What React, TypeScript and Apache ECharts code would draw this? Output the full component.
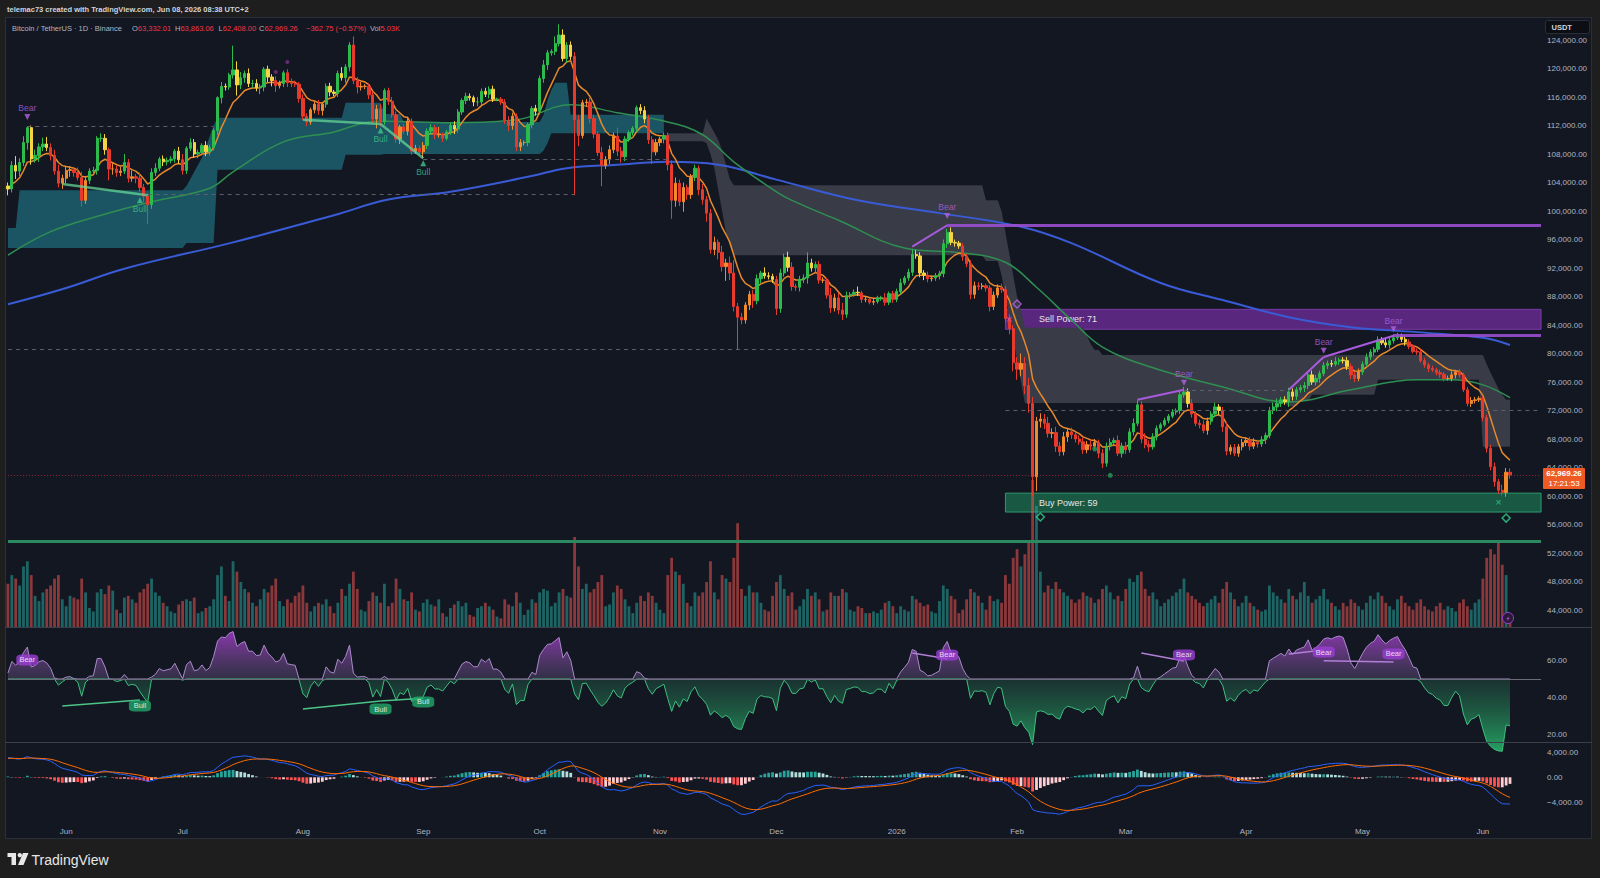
import React, { useEffect, useRef } from "react";
import * as echarts from "echarts";

// ================= DATA (prices in thousands of USDT) =================
const firstOpen = 103.5;

const closesMay25 = [103.1, 106.4, 105.6, 106.8, 109.6, 111.7, 107.3, 107.8, 109.0, 109.4, 108.9, 107.8, 105.6, 103.9, 104.6];
const closesJun25 = [105.7, 105.8, 105.4, 104.7, 101.5, 104.3, 105.6, 105.7, 110.2, 110.2, 108.6, 105.9, 105.9, 105.4, 105.6, 106.8, 104.6, 104.8, 104.6, 103.3, 102.1, 100.9, 105.4, 106.0, 107.3, 106.9, 107.1, 107.3, 108.4, 107.2];
const closesJul25 = [105.7, 108.8, 109.6, 108.0, 108.2, 109.2, 108.3, 108.9, 111.3, 115.9, 117.5, 117.4, 119.1, 119.8, 117.7, 118.7, 119.3, 117.9, 117.9, 117.3, 117.4, 119.9, 118.8, 118.3, 117.6, 117.9, 119.4, 118.0, 117.9, 117.8, 115.8];
const closesAug25 = [113.3, 112.5, 114.2, 115.0, 114.1, 115.0, 117.5, 116.7, 116.5, 119.3, 118.7, 120.2, 123.3, 118.3, 117.4, 117.5, 117.5, 116.3, 112.9, 114.3, 112.5, 116.9, 115.4, 113.5, 110.1, 111.8, 111.2, 112.6, 108.4, 108.8, 108.3];
const closesSep25 = [109.2, 111.2, 111.7, 110.7, 110.7, 110.2, 111.1, 112.0, 111.5, 113.9, 115.5, 116.1, 115.9, 115.3, 115.3, 116.8, 116.4, 117.1, 115.7, 115.7, 115.3, 112.7, 112.0, 113.3, 109.0, 109.6, 109.6, 112.1, 114.4, 114.0];
const closesOct25 = [118.6, 120.5, 122.2, 122.4, 123.5, 124.7, 121.4, 123.3, 121.7, 112.8, 110.6, 115.2, 115.3, 113.0, 110.8, 108.2, 106.4, 107.2, 108.6, 110.5, 108.4, 107.6, 110.1, 111.0, 111.6, 114.5, 114.1, 112.9, 110.0, 108.3, 109.6];
const closesNov25 = [110.1, 110.6, 106.5, 101.5, 103.9, 101.3, 103.3, 102.3, 104.7, 106.0, 103.0, 101.6, 99.7, 94.6, 95.6, 94.2, 92.2, 92.7, 91.3, 86.6, 85.1, 84.7, 86.8, 88.3, 87.4, 90.5, 91.3, 90.9, 90.8, 90.4];
const closesDec25 = [86.3, 91.3, 93.5, 92.1, 89.4, 89.3, 90.4, 90.6, 92.7, 92.0, 92.5, 90.3, 90.3, 88.2, 86.4, 87.8, 86.1, 85.5, 88.1, 88.3, 88.6, 88.5, 87.6, 87.6, 87.2, 87.3, 87.8, 87.8, 87.2, 88.4, 87.6];
const closesJan26 = [88.7, 89.9, 90.6, 91.4, 93.9, 93.7, 91.3, 91.0, 90.5, 90.6, 90.9, 91.2, 95.4, 97.0, 95.6, 95.5, 95.1, 93.6, 92.6, 88.3, 89.5, 89.4, 89.5, 89.2, 86.6, 88.2, 89.2, 89.0, 84.9, 83.5, 78.7];
const closesFeb26 = [77.8, 78.6, 75.5, 73.0, 62.7, 70.5, 70.8, 70.2, 68.8, 68.9, 67.0, 66.2, 68.3, 69.0, 68.6, 68.0, 67.6, 66.5, 67.2, 67.0, 67.5, 66.0, 64.6, 67.0, 67.5, 67.8, 66.0, 67.0];
const closesMar26 = [66.5, 69.0, 70.2, 72.8, 68.0, 67.2, 66.9, 68.3, 69.5, 70.0, 70.6, 71.2, 71.8, 72.0, 74.2, 74.6, 73.0, 71.5, 70.2, 70.0, 69.2, 70.5, 71.5, 72.5, 72.0, 69.7, 66.3, 66.8, 66.0, 66.9, 67.5];
const closesApr26 = [67.8, 67.0, 67.5, 67.3, 67.9, 68.5, 72.0, 72.5, 73.0, 73.5, 73.2, 74.6, 74.0, 74.9, 75.2, 75.5, 77.0, 76.0, 76.5, 77.2, 78.3, 78.6, 78.5, 78.9, 79.1, 79.0, 78.2, 77.0, 76.5, 77.4];
const closesMay26 = [78.5, 79.5, 80.2, 80.6, 81.9, 81.5, 81.2, 81.8, 82.2, 82.5, 82.0, 81.6, 81.0, 80.3, 80.2, 79.0, 78.4, 77.9, 77.7, 77.3, 77.1, 76.5, 76.5, 77.0, 77.4, 77.0, 74.9, 73.0, 73.4, 73.5, 73.7];
const closesJun26 = [71.0, 66.7, 64.1, 62.0, 60.8, 60.5, 63.332, 62.969];

const wickUp = [
  0.5, 0.6, 1.3, 0.6, 0.9, 0.2, 0.3, 0.8, 0.5, 0.9, 1.0, 0.6, 0.8, 0.9, 0.5,
  0.6, 0.5, 0.4, 0.7, 0.8, 0.6, 0.4, 0.5, 0.3, 0.7, 0.6, 0.3, 0.8, 0.5, 0.6, 1.2, 0.5, 0.9, 0.4, 0.8, 0.5, 0.4, 0.6, 0.7, 0.3, 0.5, 0.4, 0.4, 0.3, 0.6,
  0.8, 0.3, 0.6, 0.5, 0.4, 0.3, 0.6, 0.4, 0.3, 0.2, 0.6, 0.4, 0.3, 3.4, 1.2, 0.8, 0.4, 0.7, 0.5, 0.6, 0.4, 0.3, 0.5, 0.4, 0.6, 0.4, 0.3, 0.5, 0.6, 0.4, 0.3,
  0.6, 0.4, 0.3, 0.4, 0.6, 0.3, 0.4, 0.5, 0.3, 0.4, 0.9, 0.4, 0.4, 1.2, 0.5, 0.6, 0.3, 0.4, 0.5, 0.6, 0.7, 0.3, 0.4, 0.6, 0.5, 0.3, 0.4, 0.6, 0.4, 0.5, 0.4,
  0.5, 0.4, 0.5, 0.4, 1.1, 0.3, 0.3, 0.4, 0.6, 0.4, 0.3, 0.5, 0.4, 0.3, 0.7, 0.4, 0.5, 0.4, 0.5, 0.2, 0.3, 0.4, 0.6, 0.5, 0.4, 0.5, 0.3, 0.3, 0.3, 0.5,
  0.4, 0.7, 0.4, 0.3, 1.0, 1.5, 0.8, 0.4, 0.5, 0.6, 0.7, 0.4, 0.4, 0.6, 0.5, 0.4, 0.8, 0.5, 0.6, 0.5, 1.2, 0.6, 0.4, 0.3, 0.3, 0.3, 0.5, 0.6, 0.6, 0.5, 0.5,
  0.3, 0.4, 0.4, 0.6, 0.8, 0.5, 0.7, 0.4, 0.5, 0.5, 0.4, 0.8, 0.5, 0.6, 0.8, 0.4, 0.9, 0.6, 0.9, 1.8, 0.5, 0.6, 0.4, 0.5, 0.6, 0.6, 0.3, 0.8, 0.5, 0.4,
  0.5, 0.6, 0.5, 0.8, 0.7, 0.4, 0.5, 0.5, 1.5, 0.6, 0.4, 0.5, 0.4, 0.3, 1.0, 0.6, 0.7, 1.0, 0.6, 0.3, 0.4, 0.8, 0.3, 0.4, 0.2, 0.5, 0.3, 0.3, 0.7, 0.3, 0.4,
  0.4, 0.6, 0.3, 0.5, 0.7, 0.6, 0.5, 0.4, 0.5, 0.3, 0.4, 0.4, 0.6, 0.5, 0.7, 0.4, 0.3, 0.4, 0.4, 0.5, 0.6, 0.5, 0.4, 0.3, 0.4, 0.5, 0.5, 0.6, 0.5, 0.6, 0.5,
  0.8, 1.4, 0.9, 1.1, 0.9, 0.6, 0.8, 0.7, 0.9, 0.6, 0.8, 0.6, 0.7, 0.5, 0.6, 0.4, 0.5, 0.6, 0.5, 0.7, 0.5, 0.4, 0.6, 0.5, 0.6, 0.4, 0.7, 0.5,
  0.6, 0.5, 0.7, 0.6, 0.5, 0.8, 0.6, 0.5, 0.4, 0.3, 0.4, 0.3, 0.4, 0.3, 0.6, 0.7, 0.5, 0.6, 0.4, 0.5, 0.6, 0.5, 0.4, 0.6, 0.4, 0.5, 0.7, 0.4, 0.5, 0.4, 0.5,
  0.4, 0.5, 0.6, 0.4, 0.5, 0.4, 0.5, 0.6, 0.7, 0.4, 0.5, 0.6, 0.5, 0.4, 0.4, 0.5, 0.4, 0.6, 0.5, 0.4, 0.5, 0.4, 0.5, 0.6, 0.3, 0.4, 0.5, 0.4, 0.4, 0.5,
  0.4, 0.5, 0.4, 0.3, 0.5, 0.4, 0.6, 0.4, 0.5, 0.4, 0.3, 0.5, 0.4, 0.3, 0.4, 0.5, 0.4, 0.3, 0.4, 0.3, 0.4, 0.3, 0.4, 0.5, 0.3, 0.4, 0.3, 0.4, 0.5, 0.4, 0.3,
  0.3, 0.4, 0.5, 0.6, 0.4, 0.8, 0.6, 0.531,
];
const wickDn = [
  0.9, 0.5, 1.1, 0.7, 0.5, 1.0, 0.8, 0.5, 0.9, 0.6, 0.5, 0.7, 0.5, 0.6, 0.8,
  0.7, 0.9, 0.6, 0.4, 0.9, 0.5, 0.5, 0.4, 0.6, 0.5, 0.7, 1.6, 0.8, 0.6, 0.5, 0.4, 0.6, 0.5, 0.7, 0.6, 0.9, 2.7, 0.6, 0.5, 0.4, 0.6, 0.5, 0.4, 0.5, 0.6,
  0.6, 0.5, 0.4, 0.5, 0.6, 0.4, 0.6, 0.5, 0.4, 0.6, 0.8, 0.5, 0.4, 0.5, 1.5, 0.6, 0.7, 0.5, 0.6, 0.5, 0.9, 0.6, 0.7, 0.8, 0.9, 0.4, 0.5, 0.6, 0.5, 0.4, 0.6,
  0.5, 0.6, 0.4, 0.5, 0.6, 0.7, 0.5, 0.6, 0.4, 0.5, 0.4, 0.7, 0.6, 0.5, 0.9, 0.5, 0.4, 0.6, 0.6, 1.3, 0.6, 0.4, 0.5, 0.4, 0.5, 0.7, 0.4, 0.6, 0.5, 0.4, 0.4,
  0.9, 0.5, 0.4, 0.6, 0.4, 0.5, 0.3, 0.4, 0.7, 0.5, 0.4, 0.5, 0.4, 0.6, 0.6, 0.5, 0.4, 0.6, 0.4, 0.3, 0.4, 0.5, 0.8, 0.6, 0.6, 0.6, 0.4, 0.5, 0.5, 0.6,
  0.5, 0.6, 0.7, 0.4, 0.5, 0.4, 0.4, 0.6, 0.5, 10.6, 1.5, 0.4, 0.6, 0.7, 0.6, 0.5, 2.9, 0.5, 0.6, 0.5, 0.7, 0.8, 0.6, 0.4, 0.4, 0.5, 0.5, 0.6, 0.6, 1.7, 0.5,
  0.5, 0.6, 0.8, 2.6, 0.9, 0.6, 1.4, 0.7, 0.6, 0.5, 0.8, 0.7, 1.2, 0.6, 0.8, 1.0, 0.7, 2.0, 1.0, 0.7, 4.5, 0.6, 0.5, 0.7, 1.0, 0.5, 0.6, 0.4, 0.4, 0.5,
  0.9, 0.6, 0.5, 0.6, 0.6, 0.5, 0.6, 0.5, 0.8, 0.5, 0.6, 0.5, 0.4, 0.5, 0.7, 0.5, 0.6, 0.8, 0.5, 0.4, 0.3, 0.4, 0.5, 0.4, 0.3, 0.4, 0.3, 0.4, 0.5, 0.4, 0.5,
  0.4, 0.4, 0.3, 0.4, 0.5, 0.4, 0.6, 0.7, 0.5, 0.4, 0.4, 0.5, 0.5, 0.6, 0.4, 0.5, 0.4, 0.6, 0.5, 0.7, 0.6, 0.5, 0.4, 0.5, 0.7, 0.5, 0.4, 0.5, 0.6, 0.8, 1.2,
  1.5, 1.0, 1.2, 1.3, 2.7, 2.0, 0.9, 0.8, 0.6, 0.7, 0.8, 0.6, 0.5, 0.7, 0.6, 0.5, 0.4, 0.6, 0.5, 0.6, 0.4, 0.7, 0.7, 0.5, 0.6, 0.5, 0.4, 0.6,
  0.6, 0.4, 0.5, 0.4, 0.6, 0.5, 0.7, 0.4, 0.5, 0.4, 0.3, 0.4, 0.3, 0.4, 0.5, 0.4, 0.6, 0.5, 0.4, 0.5, 0.4, 0.6, 0.5, 0.4, 0.6, 0.7, 0.6, 0.5, 0.4, 0.5, 0.5,
  0.5, 0.6, 0.4, 0.5, 0.4, 0.6, 0.4, 0.5, 0.6, 0.5, 0.4, 0.7, 0.6, 0.5, 0.4, 0.6, 0.5, 0.4, 0.5, 0.6, 0.4, 0.5, 0.4, 0.3, 0.5, 0.4, 0.5, 0.6, 0.5, 0.4,
  0.4, 0.3, 0.4, 0.5, 0.4, 0.3, 0.4, 0.5, 0.4, 0.3, 0.4, 0.5, 0.4, 0.3, 0.4, 0.3, 0.4, 0.5, 0.3, 0.4, 0.5, 0.4, 0.3, 0.4, 0.5, 0.4, 0.3, 0.4, 0.5, 0.4, 0.3,
  0.5, 0.6, 0.5, 0.7, 0.5, 0.4, 0.6, 0.561,
];

// volume in thousands of BTC
const volumesK = [
  25, 30, 28, 24, 35, 38, 30, 18, 15, 20, 22, 24, 28, 30, 16,
  12, 18, 17, 16, 28, 20, 11, 9, 20, 22, 19, 24, 21, 10, 8, 17, 18, 16, 14, 20, 22, 25, 28, 20, 18, 14, 12, 9, 8, 13,
  15, 16, 15, 17, 8, 9, 11, 12, 16, 30, 35, 18, 15, 38, 32, 26, 22, 20, 14, 12, 16, 22, 20, 24, 28, 15, 12, 16, 14, 18, 20,
  24, 14, 9, 12, 14, 13, 16, 12, 8, 14, 22, 18, 25, 32, 22, 10, 9, 15, 20, 18, 14, 25, 12, 14, 28, 22, 16, 15, 20, 10, 9,
  14, 16, 13, 12, 16, 8, 6, 11, 13, 15, 12, 14, 7, 6, 11, 12, 14, 12, 10, 6, 5, 16, 13, 12, 20, 14, 7, 10, 16, 14,
  20, 22, 21, 12, 14, 20, 22, 18, 17, 52, 35, 22, 25, 20, 22, 26, 30, 12, 13, 20, 24, 22, 16, 12, 8, 14, 18, 15, 20, 18, 14,
  10, 8, 30, 40, 32, 30, 25, 14, 12, 20, 18, 20, 26, 38, 20, 16, 30, 28, 26, 40, 60, 22, 18, 24, 20, 20, 14, 10, 9, 18,
  26, 30, 22, 18, 20, 10, 12, 16, 22, 18, 20, 16, 9, 10, 20, 18, 18, 22, 20, 10, 9, 12, 11, 8, 8, 9, 8, 10, 14, 15, 12,
  8, 12, 10, 9, 18, 16, 14, 12, 13, 9, 8, 15, 24, 22, 18, 16, 8, 10, 16, 22, 20, 18, 14, 10, 18, 15, 16, 14, 30, 25, 40,
  45, 35, 42, 50, 85, 70, 32, 20, 24, 22, 26, 22, 20, 18, 16, 14, 16, 20, 18, 17, 14, 16, 22, 24, 20, 16, 18, 15,
  22, 28, 26, 30, 32, 22, 18, 20, 16, 12, 14, 16, 18, 20, 22, 28, 20, 18, 16, 14, 12, 14, 16, 18, 14, 22, 26, 20, 16, 12, 14,
  18, 14, 12, 10, 9, 10, 24, 20, 18, 16, 14, 22, 18, 16, 20, 26, 18, 14, 16, 18, 22, 16, 14, 12, 10, 14, 12, 16, 14, 12,
  10, 14, 18, 16, 20, 18, 14, 12, 10, 16, 18, 14, 12, 10, 14, 16, 12, 10, 9, 12, 14, 10, 12, 11, 9, 14, 16, 12, 10, 14, 16,
  28, 40, 45, 42, 50, 36, 30, 5.03,
];

// band readings: [dayIndex, lower, upper] (held until next reading)
const tealBand = [[0, 94.8, 97.6], [3, 94.8, 102.9], [46, 95.5, 103.5], [47, 95.5, 104.5], [48, 95.5, 105.5], [49, 95.5, 106.5], [50, 95.5, 107.5], [51, 95.5, 109], [52, 95.5, 110.5], [53, 95.5, 112], [54, 105.8, 113.1], [87, 107.9, 115.2], [97, 108.0, 113.6], [102, 108.0, 112.5], [138, 108.5, 113.5], [139, 109.5, 115.5], [140, 110.9, 117.0], [141, 110.9, 118.0], [145, 110.9, 113.5]];
const tealEnd = 170;
const grayBand = [[170, 109.8, 110.9], [180, 109.5, 113.0], [181, 108, 112], [182, 106, 111], [183, 103, 110], [184, 100, 108.5], [185, 97, 106.5], [186, 95, 104.5], [187, 93.8, 103.6], [252, 93.0, 101.5], [256, 91, 100], [257, 88, 97], [258, 85, 94], [259, 82, 91], [260, 79, 88], [261, 76, 86], [262, 73.05, 83.6], [278, 73.05, 82.5], [279, 73.05, 81.3], [280, 73.05, 80.5], [282, 73.05, 79.8], [330, 72.6, 79.8], [333, 73.3, 79.8], [336, 74.2, 79.8], [353, 76.3, 79.8], [380, 66.9, 79.8], [381, 66.9, 78.5], [382, 66.9, 77.3], [383, 66.9, 76.2], [384, 66.9, 75.1], [385, 66.9, 74.2], [386, 66.9, 73.5]];
const grayEnd = 388;

// moving-average readings [dayIndex, value]
const greenLineReadings = [[0, 93.8], [11, 97.1], [24, 99.4], [37, 101.3], [52, 103.2], [58, 105.5], [71, 109.7], [84, 111.1], [92, 112.4], [97, 112.6], [114, 112.4], [131, 112.8], [145, 114.9], [157, 113.8], [170, 112.5], [179, 110.7], [187, 106.9], [198, 102.7], [202, 101.5], [214, 98.7], [231, 94.8], [246, 94.1], [257, 92.8], [265, 89.3], [274, 84.7], [282, 80.9], [295, 78.0], [313, 75.3], [330, 73.2], [346, 74.9], [363, 76.3], [372, 76.3], [380, 75.6], [387, 73.8]];
const blueLineReadings = [[0, 86.9], [15, 89.2], [30, 91.9], [58, 95.6], [84, 99.4], [98, 101.6], [114, 102.7], [134, 104.8], [144, 106.0], [157, 106.5], [170, 106.9], [183, 106.5], [198, 104.4], [219, 101.5], [240, 99.7], [261, 97.8], [274, 95.5], [297, 89.9], [313, 87.5], [330, 85.1], [346, 83.7], [363, 83.0], [380, 82.2], [387, 81.2]];

// MACD state at the left edge (USDT)
const macdSeed = { ema12: 104300, ema26: 100800, signal: 3000 };

// annotations
const priceBear = [[5, 113.2], [242, 99.3], [303, 75.9], [339, 80.4], [357, 83.4]];
const priceBull = [[34, 101.5], [96, 111.3], [107, 106.7]];
const rsiBear = [[5, 60.4], [242, 63.1], [303, 63.1], [339, 64.7], [357, 63.7]];
const rsiBull = [[34, 35.3], [96, 33.6], [107, 37.5]];
const bullDivLines = [[[14, 103.8], [36, 102.2]], [[76, 112.8], [96, 112.2]], [[96, 112.2], [107, 107.4]]];
const bearDivLines = [[[233, 95.0], [242, 98.0]], [[291, 73.5], [303, 74.9]], [[330, 74.9], [339, 79.5]], [[339, 79.5], [357, 82.5]]];
const resistanceLines = [[242, 98.0], [357, 82.6]];
const dashedLevels = [[5, 53, 111.9], [36, 146, 102.3], [107, 170, 107.3], [0, 257, 80.6], [257, 395, 72.0], [303, 330, 74.9]];
const supportLevel = 53.6;
const lastPrice = 62.969;
const sellPower = { from: 257, lo: 83.4, hi: 86.2, label: "Sell Power: 71" };
const buyPower = { from: 257, lo: 57.75, hi: 60.4, label: "Buy Power: 59" };
const rsiBullLines = [[[14, 35.3], [34, 38.6]], [[76, 33.6], [96, 38.0]], [[96, 38.0], [107, 39.5]]];
const rsiBearLines = [[[233, 64.2], [242, 61.0]], [[292, 64.2], [303, 59.8]], [[330, 63.6], [339, 65.8]], [[339, 60.0], [357, 59.3]]];

const priceTicks = { min: 40000, max: 128000, step: 4000 };
const MONTHS = ["Jan", "Feb", "Mar", "Apr", "May", "Jun", "Jul", "Aug", "Sep", "Oct", "Nov", "Dec"];

// ================= derived =================
const closes = [
  ...closesMay25, ...closesJun25, ...closesJul25, ...closesAug25, ...closesSep25, ...closesOct25,
  ...closesNov25, ...closesDec25, ...closesJan26, ...closesFeb26, ...closesMar26, ...closesApr26,
  ...closesMay26, ...closesJun26,
];
const N_CAT = 396;
const dates: string[] = [];
for (let k = 0; k < N_CAT; k++) dates.push(new Date(Date.UTC(2025, 4, 17 + k)).toISOString().slice(0, 10));
const opens = closes.map((c, k) => (k === 0 ? firstOpen : closes[k - 1]));
const highs = closes.map((c, k) => Math.max(opens[k], c) + (wickUp[k] ?? 0.4));
const lows = closes.map((c, k) => Math.min(opens[k], c) - (wickDn[k] ?? 0.4));

function ema(src: number[], n: number, seed?: number) {
  const a = 2 / (n + 1);
  const out: number[] = [];
  let e = seed === undefined ? src[0] : seed;
  src.forEach((v, i) => {
    e = i === 0 && seed === undefined ? v : e + a * (v - e);
    out.push(e);
  });
  return out;
}
const closesUsd = closes.map((c) => c * 1000);
const ema9 = ema(closesUsd, 9);

function rsiCalc(cl: number[], n = 14) {
  let ag = 0, al = 0;
  for (let k = 1; k <= n; k++) {
    const d = cl[k] - cl[k - 1];
    if (d > 0) ag += d; else al -= d;
  }
  ag /= n; al /= n;
  const out: number[] = [100 - 100 / (1 + ag / al)];
  for (let k = 1; k < cl.length; k++) {
    const d = cl[k] - cl[k - 1];
    ag = (ag * (n - 1) + Math.max(d, 0)) / n;
    al = (al * (n - 1) + Math.max(-d, 0)) / n;
    out.push(al === 0 ? 100 : 100 - 100 / (1 + ag / al));
  }
  return out;
}
const rsi = rsiCalc(closesUsd);
const e12 = ema(closesUsd, 12, macdSeed.ema12), e26 = ema(closesUsd, 26, macdSeed.ema26);
const macd = e12.map((v, i) => v - e26[i]);
const signal = ema(macd, 9, macdSeed.signal);
const hist = macd.map((v, i) => v - signal[i]);

const C_GREEN = "#2dbb4e", C_YELLOW = "#f5d443", C_ORANGE = "#f08a2c", C_RED = "#e8392d";
function candleColor(k: number) {
  const o = opens[k], c = closes[k] * 1000, e = ema9[k];
  const up = closes[k] >= o;
  if (c >= e) return up ? C_GREEN : C_YELLOW;
  return up ? C_ORANGE : C_RED;
}

function expandBand(points: number[][], endK: number) {
  const lo: (number | null)[] = new Array(N_CAT).fill(null);
  const diff: (number | null)[] = new Array(N_CAT).fill(null);
  let p = 0;
  for (let k = points[0][0]; k < endK; k++) {
    while (p + 1 < points.length && points[p + 1][0] <= k) p++;
    lo[k] = points[p][1] * 1000;
    diff[k] = (points[p][2] - points[p][1]) * 1000;
  }
  return { lo, diff };
}
function sparse(points: number[][]) {
  const arr: (number | null)[] = new Array(N_CAT).fill(null);
  points.forEach(([k, v]) => (arr[k] = v * 1000));
  return arr;
}
function fmt(v: number) {
  const neg = v < 0;
  const [a, b] = Math.abs(v).toFixed(2).split(".");
  return (neg ? "\u2212" : "") + a.replace(/\B(?=(\d{3})+(?!\d))/g, ",") + "." + b;
}

const FONT = '"Liberation Sans", "DejaVu Sans", sans-serif';
const LAST = dates[N_CAT - 1];

function buildOption() {
  const teal = expandBand(tealBand, tealEnd);
  const gray = expandBand(grayBand, grayEnd);

  const candleData = closes.map((c, k) => {
    const col = candleColor(k);
    return {
      value: [opens[k] * 1000, c * 1000, lows[k] * 1000, highs[k] * 1000],
      itemStyle: { color: col, color0: col, borderColor: col, borderColor0: col },
    };
  });
  const volData = volumesK.map((v, k) => ({
    value: v,
    itemStyle: { color: closes[k] >= opens[k] ? "rgba(38,166,154,0.55)" : "rgba(239,83,80,0.55)" },
  }));
  const histData = hist.map((h, k) => {
    const prev = k > 0 ? hist[k - 1] : 0;
    let color;
    if (h >= 0) color = h >= prev ? "#26a69a" : "#b2dfdb";
    else color = h <= prev ? "#ff5252" : "#ffcdd2";
    return { value: h, itemStyle: { color } };
  });

  const seg = (a: number[], b: number[], style: any) => [
    { coord: [dates[a[0]], a[1] * 1000], lineStyle: style },
    { coord: [dates[b[0]], b[1] * 1000] },
  ];
  const hline = (k0: number, k1: string, v: number, style: any) => [
    { coord: [dates[k0], v * 1000], lineStyle: style },
    { coord: [k1, v * 1000] },
  ];

  const priceMarkLines = [
    ...dashedLevels.map(([a, b, v]) => [
      { coord: [dates[a], v * 1000], lineStyle: { color: "#5d606b", width: 1, type: [4, 4] } },
      { coord: [dates[b], v * 1000] },
    ]),
    hline(0, LAST, supportLevel, { color: "#2c8a61", width: 3, type: "solid" }),
    hline(0, LAST, lastPrice, { color: "rgba(242,54,69,0.55)", width: 1, type: [1, 2] }),
    ...resistanceLines.map(([k, v]) => hline(k, LAST, v, { color: "#9a4fd0", width: 3, type: "solid", opacity: 0.9 })),
    ...bullDivLines.map(([a, b]) => seg(a, b, { color: "rgba(102,214,150,0.75)", width: 2.5, type: "solid" })),
    ...bearDivLines.map(([a, b]) => seg(a, b, { color: "#a85bdc", width: 2, type: "solid" })),
  ];

  const powerArea = (p: any, fill: string, border: string) => [
    {
      coord: [dates[p.from], p.hi * 1000],
      itemStyle: { color: fill, borderColor: border, borderWidth: 1 },
      label: { show: true, formatter: p.label, position: "insideLeft", offset: [29, 0], color: "#e6e6e6", fontSize: 9, fontFamily: FONT },
    },
    { coord: [LAST, p.lo * 1000] },
  ];

  const labelScatter = (pts: number[][], text: string, color: string, up: boolean) => ({
    type: "scatter",
    xAxisIndex: 0,
    yAxisIndex: 0,
    z: 6,
    silent: true,
    symbol: "triangle",
    symbolRotate: up ? 0 : 180,
    symbolSize: 6,
    itemStyle: { color },
    label: { show: true, formatter: text, position: up ? "bottom" : "top", distance: 1, color, fontSize: 8.5, fontFamily: FONT },
    data: pts.map(([k, v]) => [dates[k], v * 1000]),
  });
  const rsiBox = (pts: number[][], text: string, color: string) => ({
    type: "scatter",
    xAxisIndex: 2,
    yAxisIndex: 2,
    z: 6,
    silent: true,
    symbol: "roundRect",
    symbolSize: [22, 11],
    itemStyle: { color },
    label: { show: true, formatter: text, position: "inside", color: "#ffffff", fontSize: 7.5, fontFamily: FONT },
    data: pts.map(([k, v]) => [dates[k], v]),
  });
  const rsiSeg = (a: number[], b: number[], color: string) => [
    { coord: [dates[a[0]], a[1]], lineStyle: { color, width: 1.5, type: "solid" } },
    { coord: [dates[b[0]], b[1]] },
  ];

  const markerPt = (k: number, v: number, symbol: string, size: number, style: any, label?: any) => ({
    value: [dates[k], v * 1000],
    symbol,
    symbolSize: size,
    itemStyle: style,
    label: label || { show: false },
  });

  const axisLabelStyle = { color: "#b2b5be", fontSize: 8, fontFamily: FONT };

  return {
    animation: false,
    backgroundColor: "transparent",
    grid: [
      { left: 6, right: 57, top: 11.5, height: 627 },
      { left: 6, right: 57, top: 454, height: 173 },
      { left: 6, right: 57, top: 624, height: 146.67 },
      { left: 6, right: 57, top: 727.3, height: 100 },
    ],
    xAxis: [0, 1, 2, 3].map((i) => ({
      type: "category",
      gridIndex: i,
      data: dates,
      boundaryGap: true,
      axisLine: { show: false },
      axisTick: { show: false },
      splitLine: { show: false },
      axisLabel:
        i === 3
          ? {
              show: true,
              margin: 0,
              ...axisLabelStyle,
              interval: (_i: number, v: string) => v.endsWith("-01"),
              formatter: (v: string) => {
                const [y, m] = v.split("-");
                return m === "01" ? y : MONTHS[+m - 1];
              },
            }
          : { show: false },
    })),
    yAxis: [
      {
        gridIndex: 0, position: "right", min: priceTicks.min, max: priceTicks.max, interval: priceTicks.step,
        axisLine: { show: false }, axisTick: { show: false }, splitLine: { show: false },
        axisLabel: { ...axisLabelStyle, margin: 4, formatter: (v: number) => (v < 42000 || v > 125000 ? "" : fmt(v)) },
      },
      { gridIndex: 1, min: 0, max: 100, show: false, splitLine: { show: false } },
      {
        gridIndex: 2, position: "right", min: 0, max: 80, interval: 20,
        axisLine: { show: false }, axisTick: { show: false }, splitLine: { show: false },
        axisLabel: { ...axisLabelStyle, margin: 4, formatter: (v: number) => (v === 0 || v === 80 ? "" : fmt(v)) },
      },
      {
        gridIndex: 3, position: "right", min: -8000, max: 8000, interval: 4000,
        axisLine: { show: false }, axisTick: { show: false }, splitLine: { show: false },
        axisLabel: { ...axisLabelStyle, margin: 4, formatter: (v: number) => (Math.abs(v) > 5000 ? "" : fmt(v)) },
      },
    ],
    series: [
      { name: "tealLo", type: "line", stack: "teal", data: teal.lo, symbol: "none", lineStyle: { opacity: 0 }, z: 1, silent: true },
      { name: "tealBand", type: "line", stack: "teal", data: teal.diff, symbol: "none", lineStyle: { opacity: 0 }, areaStyle: { color: "#1b5563", opacity: 1 }, z: 1, silent: true },
      { name: "grayLo", type: "line", stack: "gray", data: gray.lo, symbol: "none", lineStyle: { opacity: 0 }, z: 1, silent: true },
      { name: "grayBand", type: "line", stack: "gray", data: gray.diff, symbol: "none", lineStyle: { opacity: 0 }, areaStyle: { color: "#393b46", opacity: 1 }, z: 1, silent: true },
      { name: "vol", type: "bar", xAxisIndex: 1, yAxisIndex: 1, data: volData, barWidth: "72%", z: 1, silent: true },
      { name: "ma200", type: "line", data: sparse(blueLineReadings), connectNulls: true, smooth: 0.4, symbol: "none", lineStyle: { color: "#3a5bd6", width: 2 }, z: 2, silent: true },
      { name: "ma50", type: "line", data: sparse(greenLineReadings), connectNulls: true, smooth: 0.4, symbol: "none", lineStyle: { color: "#2f8f52", width: 1.5 }, z: 2, silent: true },
      { name: "ema", type: "line", data: ema9, symbol: "none", lineStyle: { color: "#e8892b", width: 1.5 }, z: 3, silent: true },
      {
        name: "BTCUSDT", type: "candlestick", data: candleData, barWidth: "72%", z: 4, silent: true,
        markLine: { silent: true, symbol: ["none", "none"], label: { show: false }, animation: false, data: priceMarkLines },
        markArea: {
          silent: true,
          data: [powerArea(sellPower, "rgba(98,42,136,0.9)", "#7a3aa6"), powerArea(buyPower, "rgba(27,96,72,0.9)", "#2d9a6c")],
        },
      },
      labelScatter(priceBear, "Bear", "#b062e0", false),
      labelScatter(priceBull, "Bull", "#3fc48a", true),
      {
        name: "markers", type: "scatter", z: 7, silent: true,
        data: [
          markerPt(260, 86.95, "diamond", 8, { color: "rgba(0,0,0,0)", borderColor: "#b864e8", borderWidth: 1.5 }),
          markerPt(266, 57.05, "diamond", 8, { color: "rgba(0,0,0,0)", borderColor: "#2fcf8a", borderWidth: 1.5 }),
          markerPt(386, 56.9, "diamond", 8, { color: "rgba(0,0,0,0)", borderColor: "#2fcf8a", borderWidth: 1.5 }),
          markerPt(280, 66.6, "circle", 5, { color: "#1f9e5a" }),
          markerPt(284, 62.9, "circle", 5, { color: "#1f9e5a" }),
          markerPt(69, 119.5, "circle", 4, { color: "#7a2f8a" }),
          markerPt(72, 120.9, "circle", 4, { color: "#7a2f8a" }),
          markerPt(258, 84.8, "circle", 1, { color: "rgba(0,0,0,0)" }, { show: true, position: "inside", formatter: "\u00d7", color: "#e05ab8", fontSize: 11, fontFamily: FONT }),
          markerPt(384, 59.1, "circle", 1, { color: "rgba(0,0,0,0)" }, { show: true, position: "inside", formatter: "\u00d7", color: "#35d08f", fontSize: 11, fontFamily: FONT }),
        ],
      },
      // RSI
      {
        name: "rsiUp", type: "line", xAxisIndex: 2, yAxisIndex: 2, data: rsi.map((v) => Math.max(v, 50)), symbol: "none", z: 2, silent: true,
        lineStyle: { color: "#a98bc9", width: 1 },
        areaStyle: {
          origin: 50,
          color: new echarts.graphic.LinearGradient(0, 0, 0, 1, [
            { offset: 0, color: "rgba(200,70,245,0.95)" },
            { offset: 1, color: "rgba(120,100,150,0.45)" },
          ]),
        },
      },
      {
        name: "rsiDn", type: "line", xAxisIndex: 2, yAxisIndex: 2, data: rsi.map((v) => Math.min(v, 50)), symbol: "none", z: 2, silent: true,
        lineStyle: { color: "#3fbf7f", width: 1 },
        areaStyle: {
          origin: 50,
          color: new echarts.graphic.LinearGradient(0, 0, 0, 1, [
            { offset: 0, color: "rgba(40,110,80,0.45)" },
            { offset: 1, color: "rgba(45,230,130,0.95)" },
          ]),
        },
        markLine: {
          silent: true, symbol: ["none", "none"], label: { show: false }, animation: false,
          data: [
            [{ coord: [dates[0], 50], lineStyle: { color: "#6a6d78", width: 1, type: "solid" } }, { coord: [LAST, 50] }],
            ...rsiBullLines.map(([a, b]) => rsiSeg(a, b, "#4cc488")),
            ...rsiBearLines.map(([a, b]) => rsiSeg(a, b, "#b07fd6")),
          ],
        },
      },
      rsiBox(rsiBear, "Bear", "#9b3fd4"),
      rsiBox(rsiBull, "Bull", "#22a86a"),
      // MACD
      { name: "hist", type: "bar", xAxisIndex: 3, yAxisIndex: 3, data: histData, barWidth: "72%", z: 2, silent: true },
      { name: "macd", type: "line", xAxisIndex: 3, yAxisIndex: 3, data: macd, symbol: "none", lineStyle: { color: "#2962ff", width: 1 }, z: 3, silent: true },
      { name: "signal", type: "line", xAxisIndex: 3, yAxisIndex: 3, data: signal, symbol: "none", lineStyle: { color: "#ff6d00", width: 1 }, z: 3, silent: true },
    ],
    graphic: [
      { type: "line", z: 50, shape: { x1: 5, y1: 627.5, x2: 1592, y2: 627.5 }, style: { stroke: "#3b3f4a", lineWidth: 1 } },
      { type: "line", z: 50, shape: { x1: 5, y1: 742.5, x2: 1592, y2: 742.5 }, style: { stroke: "#3b3f4a", lineWidth: 1 } },
      {
        type: "text", z: 50, x: 7, y: 9.5,
        style: { text: "telemac73 created with TradingView.com, Jun 08, 2026 08:38 UTC+2", fill: "#d1d4dc", fontSize: 7.5, fontWeight: "bold", fontFamily: FONT, verticalAlign: "middle", textVerticalAlign: "middle" },
      },
      {
        type: "text", z: 50, x: 12, y: 28.5,
        style: { text: "Bitcoin / TetherUS \u00b7 1D \u00b7 Binance", fill: "#b2b5be", fontSize: 7.5, fontFamily: FONT, verticalAlign: "middle", textVerticalAlign: "middle" },
      },
      ...[
        [132, "O", "63,332.01"],
        [175, "H", "63,863.06"],
        [218.6, "L", "62,408.00"],
        [259, "C", "62,969.26"],
        [306, "", "\u2212362.75 (\u22120.57%)"],
        [370, "Vol", "5.03K"],
      ].map(([x, a, b]) => ({
        type: "text", z: 50, x, y: 28.5,
        style: {
          text: (a ? "{g|" + a + "}" : "") + "{r|" + b + "}",
          verticalAlign: "middle", textVerticalAlign: "middle",
          fontSize: 7.5, fontFamily: FONT,
          rich: { g: { fill: "#b2b5be", fontSize: 7.5, fontFamily: FONT }, r: { fill: "#f23645", fontSize: 7.5, fontFamily: FONT } },
        },
      })),
      { type: "rect", z: 60, shape: { x: 1545.5, y: 20.5, width: 44, height: 13, r: 2 }, style: { fill: "#0c0e13", stroke: "#2a2e39" } },
      { type: "text", z: 61, x: 1551.5, y: 27, style: { text: "USDT", fill: "#d1d4dc", fontSize: 7.5, fontWeight: "bold", fontFamily: FONT, verticalAlign: "middle", textVerticalAlign: "middle" } },
      { type: "rect", z: 60, shape: { x: 1543, y: 468, width: 42, height: 21, r: 1 }, style: { fill: "#ee5a24" } },
      { type: "text", z: 61, x: 1564, y: 473.5, style: { text: "62,969.26", fill: "#ffffff", fontSize: 8, fontWeight: "bold", fontFamily: FONT, align: "center", textAlign: "center", verticalAlign: "middle", textVerticalAlign: "middle" } },
      { type: "text", z: 61, x: 1564, y: 483.5, style: { text: "17:21:53", fill: "#ffffff", fontSize: 8, fontFamily: FONT, align: "center", textAlign: "center", verticalAlign: "middle", textVerticalAlign: "middle" } },
      { type: "circle", z: 60, shape: { cx: 1508, cy: 618, r: 5.5 }, style: { fill: "#2a1838", stroke: "#9c3fd4", lineWidth: 1 } },
      { type: "text", z: 61, x: 1508, y: 618.5, style: { text: "\u26a1", fill: "#c77dff", fontSize: 6.5, fontFamily: '"DejaVu Sans", sans-serif', align: "center", textAlign: "center", verticalAlign: "middle", textVerticalAlign: "middle" } },
      // footer logo
      { type: "rect", z: 60, shape: { x: 7.5, y: 853, width: 8.5, height: 4 }, style: { fill: "#e8e8e8" } },
      { type: "rect", z: 60, shape: { x: 11.5, y: 853, width: 4.5, height: 12 }, style: { fill: "#e8e8e8" } },
      { type: "circle", z: 60, shape: { cx: 19.8, cy: 855.2, r: 2.2 }, style: { fill: "#e8e8e8" } },
      { type: "polygon", z: 60, shape: { points: [[23, 853], [28.5, 853], [23.5, 865], [18, 865]] }, style: { fill: "#e8e8e8" } },
      { type: "text", z: 60, x: 31.5, y: 859.5, style: { text: "TradingView", fill: "#e8e8e8", fontSize: 14, fontFamily: FONT, verticalAlign: "middle", textVerticalAlign: "middle" } },
    ],
  };
}

export default function App() {
  const ref = useRef<HTMLDivElement>(null);
  useEffect(() => {
    if (!ref.current) return;
    const chart = echarts.init(ref.current, null, { renderer: "svg" });
    chart.setOption(buildOption() as any);
    return () => chart.dispose();
  }, []);
  return (
    <div style={{ position: "fixed", left: 0, top: 0, width: 1600, height: 878, background: "#1e1e1e", overflow: "hidden" }}>
      <div style={{ position: "absolute", left: 5, top: 17, width: 1587, height: 822, background: "#131722", boxSizing: "border-box", border: "1px solid #2a2e39" }} />
      <div ref={ref} style={{ position: "absolute", left: 0, top: 0, width: 1600, height: 878 }} />
    </div>
  );
}
